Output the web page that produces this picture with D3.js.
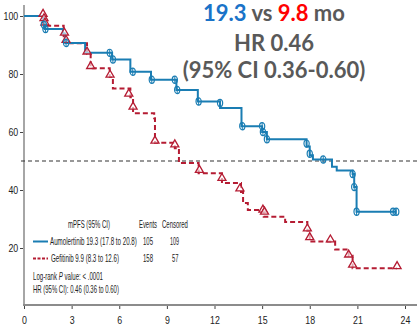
<!DOCTYPE html>
<html lang="en">
<head>
<meta charset="UTF-8">
<title>PFS</title>
<style>
  body { margin: 0; background: #fff; }
  svg { display: block; }
  .narrow { font-family: "Liberation Sans", Arial, sans-serif; fill: #222; }
  .title { font-family: Lato, "Open Sans", sans-serif; font-weight: bold; fill: #595959; }
</style>
</head>
<body>
<svg id="chart"></svg>
<script src="https://cdn.jsdelivr.net/npm/d3@7"></script>
<script>

// Aumolertinib KM steps (month, % PFS)
var aumoTimes = [0, 1.2, 1.3, 2.45, 2.6, 3.85, 5.55, 6.7, 8.0, 9.6, 10.95, 12.35, 13.7, 15.0, 15.3, 17.8, 18.0, 18.2, 19.4, 19.7, 20.7, 20.8, 20.95, 23.45];
var aumoSurv  = [100, 98, 95.5, 94, 90.7, 87.3, 85, 80.8, 78, 74.5, 70.5, 68.3, 62, 60, 57.5, 55, 52, 50.5, 48, 46.7, 45.5, 41, 32.5, 32.5];
var aumoCensT = [1.25, 1.35, 2.65, 5.4, 5.6, 6.85, 8.05, 9.5, 9.65, 11.0, 12.35, 13.75, 15.0, 15.05, 15.3, 17.8, 18.0, 18.85, 20.7, 20.8, 20.95, 23.25, 23.45];
var aumoCensS = [97, 95.5, 90.7, 87.3, 85, 80.8, 78, 78, 74.5, 70.5, 70, 62, 62, 60, 57.5, 56, 52.5, 50.5, 45.5, 41, 32.5, 32.5, 32.5];

// Gefitinib KM steps
var gefiTimes = [0, 1.25, 1.32, 2.5, 2.65, 3.97, 4.2, 5.4, 5.6, 6.7, 6.87, 8.2, 8.25, 9.5, 9.76, 11.0, 12.47, 13.67, 13.8, 14.1, 15.1, 16.45, 17.85, 18.0, 19.6, 20.45, 20.7, 23.5];
var gefiSurv  = [100, 97.5, 96.6, 93, 90.6, 87, 82, 79, 75, 72, 66.5, 64.7, 56.3, 54.4, 49.3, 45.8, 42.4, 39.3, 35.5, 33.1, 30.8, 29, 26, 22.2, 19.5, 17.3, 13, 13];
var gefiCensT = [1.2, 1.26, 1.32, 2.55, 2.65, 3.97, 4.2, 5.42, 6.6, 6.87, 8.25, 9.5, 11.05, 12.47, 13.6, 15.05, 15.15, 17.85, 18.0, 19.3, 20.45, 20.7, 23.5];
var gefiCensS = [100, 98.5, 97, 93.5, 91, 87, 82, 79, 72.5, 68, 56.3, 55, 46.2, 43.4, 39.8, 32.5, 31.8, 26, 23, 22.2, 17, 13.5, 13];

var xTicks = [0, 3, 6, 9, 12, 15, 18, 21, 24];
var yTicks = [20, 40, 60, 80, 100];

var legendHead = ["mPFS (95% CI)", "Events", "Censored"];
var legendNames = ["Aumolertinib 19.3 (17.8 to 20.8)", "Gefitinib 9.9 (8.3 to 12.6)"];
var legendEvents = ["105", "158"];
var legendCensored = ["109", "57"];

var W = 417, H = 329;
var blue = "#1a7db3", red = "#b51c33";

var svg = d3.select("#chart").attr("width", W).attr("height", H);

var x = d3.scaleLinear().domain([0, 24]).range([24, 405]);
var y = d3.scaleLinear().domain([0, 100]).range([306, 16]);

// axes
svg.append("line").attr("x1", 24).attr("x2", 24).attr("y1", 5).attr("y2", 305)
    .attr("stroke", "#a6a6a6").attr("stroke-width", 2);
svg.append("line").attr("x1", 23).attr("x2", W).attr("y1", 305).attr("y2", 305)
    .attr("stroke", "#8c8c8c").attr("stroke-width", 2);

var yAxis = svg.append("g").attr("transform", "translate(23,0)")
    .call(d3.axisLeft(y).tickValues(yTicks).tickSize(3).tickPadding(3));
yAxis.select(".domain").remove();
yAxis.selectAll("line").attr("stroke", "#444");
yAxis.selectAll("text").attr("class", "narrow").style("font-size", "11px")
    .attr("font-family", null).attr("transform", "scale(0.8,1)");

var xAxis = svg.append("g").attr("transform", "translate(0,306)")
    .call(d3.axisBottom(x).tickValues(xTicks).tickSize(3).tickPadding(7));
xAxis.select(".domain").remove();
xAxis.selectAll("line").attr("stroke", "#444");
xAxis.selectAll("text").attr("class", "narrow").style("font-size", "11px")
    .attr("font-family", null).attr("transform", "scale(0.8,1)");

// median reference
svg.append("line").attr("x1", 21).attr("x2", W).attr("y1", y(50)).attr("y2", y(50))
    .attr("stroke", "#333").attr("stroke-width", 1.2).attr("stroke-dasharray", "4,3");

var step = d3.line().x(function (d) { return x(d[0]); }).y(function (d) { return y(d[1]); })
    .curve(d3.curveStepAfter);

var aumo = d3.zip(aumoTimes, aumoSurv);
var gefi = d3.zip(gefiTimes, gefiSurv);

svg.append("path").datum(gefi).attr("d", step).attr("fill", "none")
    .attr("stroke", red).attr("stroke-width", 2).attr("stroke-dasharray", "5,3");
svg.append("path").datum(aumo).attr("d", step).attr("fill", "none")
    .attr("stroke", blue).attr("stroke-width", 2);

// censor marks
svg.selectAll(".cg").data(d3.zip(gefiCensT, gefiCensS)).enter().append("path")
    .attr("class", "cg")
    .attr("transform", function (d) { return "translate(" + x(d[0]) + "," + (y(d[1]) - 2) + ")"; })
    .attr("d", d3.symbol().type(d3.symbolTriangle).size(28))
    .attr("fill", "#fff").attr("fill-opacity", 0.6).attr("stroke", red).attr("stroke-width", 1.3);

var cb = svg.selectAll(".cb").data(d3.zip(aumoCensT, aumoCensS)).enter().append("g")
    .attr("class", "cb")
    .attr("transform", function (d) { return "translate(" + x(d[0]) + "," + y(d[1]) + ")"; });
cb.append("ellipse").attr("rx", 2.6).attr("ry", 3.6).attr("fill", "none")
    .attr("stroke", blue).attr("stroke-width", 1.2);
cb.append("line").attr("y1", -3.6).attr("y2", 3.6).attr("stroke", blue).attr("stroke-width", 1);

// title
var t1 = svg.append("text").attr("class", "title").attr("x", 274).attr("y", 21)
    .attr("text-anchor", "middle").style("font-size", "22px");
t1.append("tspan").attr("fill", "#1a73c8").text("19.3");
t1.append("tspan").text(" vs ");
t1.append("tspan").attr("fill", "#ff0000").text("9.8");
t1.append("tspan").text(" mo");
svg.append("text").attr("class", "title").attr("x", 274).attr("y", 51)
    .attr("text-anchor", "middle").style("font-size", "22px").text("HR 0.46");
svg.append("text").attr("class", "title").attr("x", 274).attr("y", 78)
    .attr("text-anchor", "middle").style("font-size", "22px").text("(95% CI 0.36-0.60)");

// legend: condensed text squeezed to the reference widths
function squeeze(t, px, py, len) {
    var w = t.node().getComputedTextLength();
    t.attr("transform", "translate(" + px + "," + py + ") scale(" + (len / w) + ",1)");
    return t;
}
function lt(str, px, py, len) {
    var t = svg.append("text").attr("class", "narrow").style("font-size", "10.5px").text(str);
    return squeeze(t, px, py, len);
}
lt(legendHead[0], 68, 228, 42);
lt(legendHead[1], 139, 228, 18);
lt(legendHead[2], 162, 228, 26);

svg.append("line").attr("x1", 33).attr("x2", 48).attr("y1", 241.5).attr("y2", 241.5)
    .attr("stroke", blue).attr("stroke-width", 2);
svg.append("line").attr("x1", 33).attr("x2", 48).attr("y1", 258.5).attr("y2", 258.5)
    .attr("stroke", red).attr("stroke-width", 2).attr("stroke-dasharray", "3,1.5");

lt(legendNames[0], 50, 245, 87);
lt(legendNames[1], 51, 262, 68);
lt(legendEvents[0], 143, 245, 10);
lt(legendEvents[1], 143, 262, 10);
lt(legendCensored[0], 170, 245, 9);
lt(legendCensored[1], 172, 262, 6.5);

var lr = svg.append("text").attr("class", "narrow").style("font-size", "10.5px");
lr.append("tspan").text("Log-rank ");
lr.append("tspan").style("font-style", "italic").text("P");
lr.append("tspan").text(" value: < .0001");
squeeze(lr, 33, 280, 70);
lt("HR (95% CI): 0.46 (0.36 to 0.60)", 33, 293, 86);

</script>
</body>
</html>
